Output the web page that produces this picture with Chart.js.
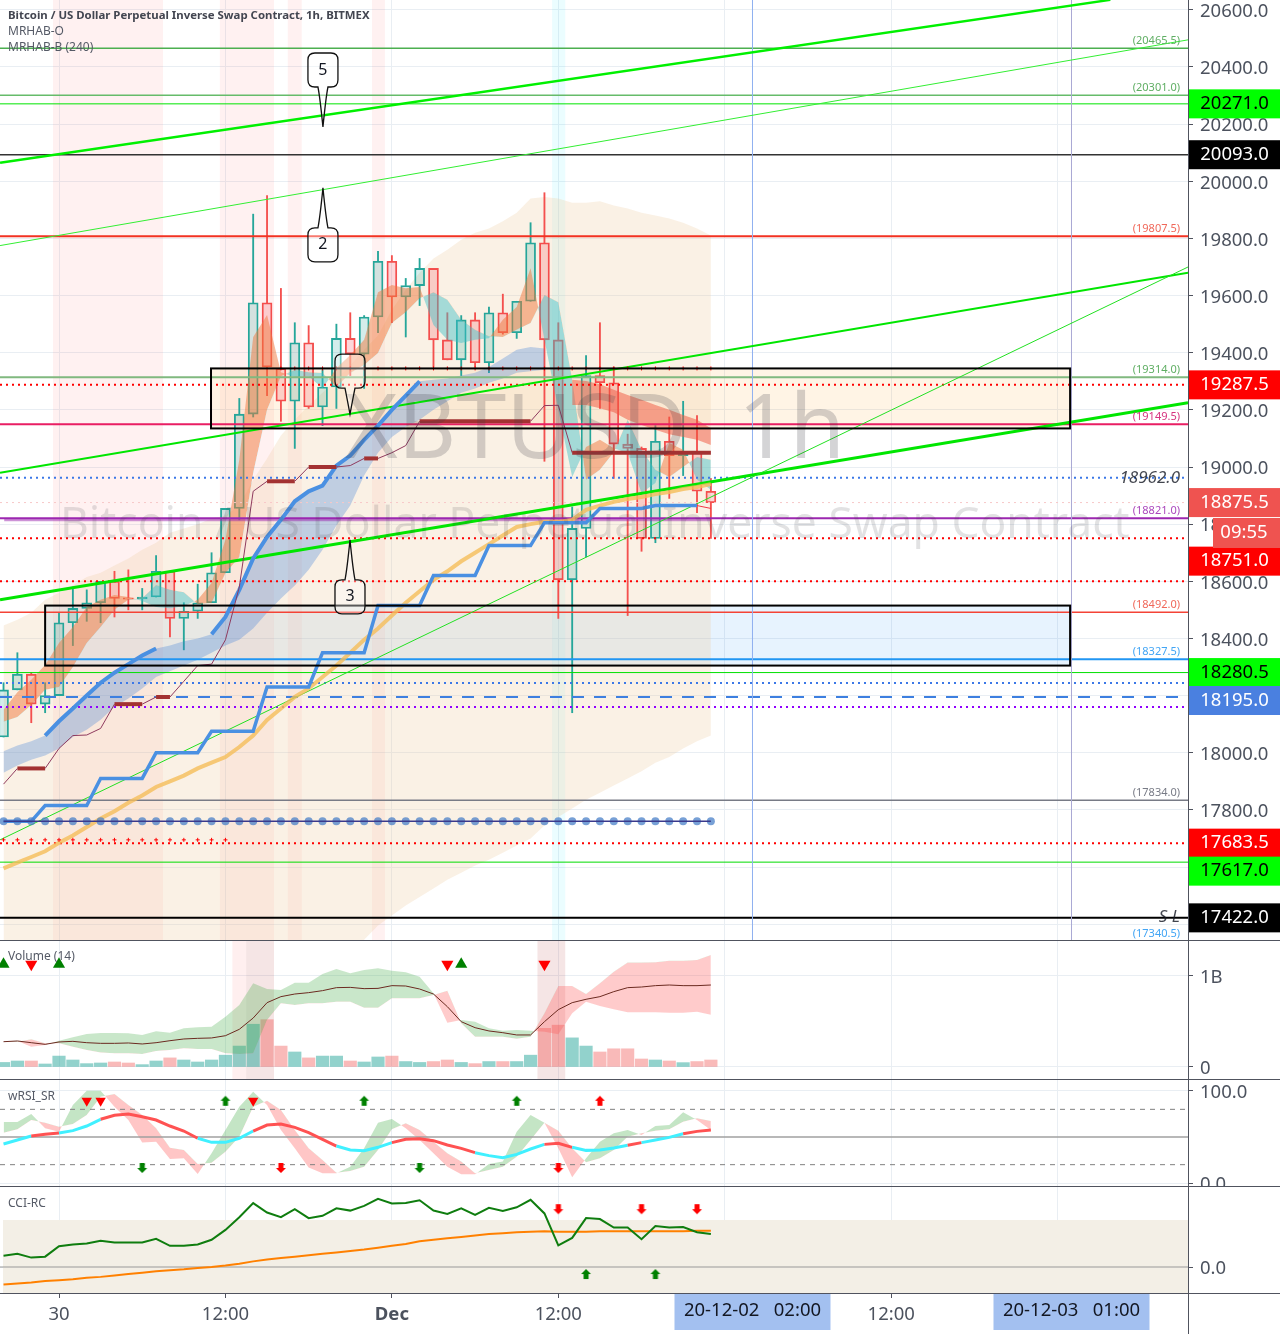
<!DOCTYPE html>
<html>
<head>
<meta charset="utf-8">
<title>XBTUSD 1h</title>
<script src="https://cdn.jsdelivr.net/npm/chart.js@4"></script>
<style>
html, body { margin: 0; padding: 0; background: #fff; }
#page { position: relative; width: 1280px; height: 1334px; overflow: hidden; }
canvas { position: absolute; left: 0; display: block; }
.rule { position: absolute; background: #50535e; }
</style>
</head>
<body>
<div id="page">
  <canvas id="mainChart" width="1280" height="940" style="top:0"></canvas>
  <canvas id="volumeChart" width="1280" height="138" style="top:941px"></canvas>
  <canvas id="rsiChart" width="1280" height="106" style="top:1080px"></canvas>
  <canvas id="cciChart" width="1280" height="147" style="top:1187px"></canvas>
  <div class="rule" style="left:0;top:940px;width:1280px;height:1px"></div>
  <div class="rule" style="left:0;top:1079px;width:1280px;height:1px"></div>
  <div class="rule" style="left:0;top:1186px;width:1280px;height:1px"></div>
  <div class="rule" style="left:0;top:1293px;width:1280px;height:1px"></div>
  <div class="rule" style="left:1188px;top:0;width:1px;height:1334px"></div>
</div>
<script>
// candles, one per hour, hour 0 is 30 Nov 00:00
var firstHour = -4;
var opens = [18055,18220,18275,18170,18200,18455,18505,18525,18600,18542,18538,18545,18635,18470,18495,18525,18630,18855,19185,19575,19345,19230,19435,19210,19280,19450,19395,19525,19720,19595,19635,19695,19445,19375,19515,19365,19540,19470,19580,19785,19445,18605,18785,19320,19295,19080,19065,18750,19090,19040,19055,18915];
var highs = [18245,18350,18280,18245,18490,18580,18570,18600,18635,18640,18575,18690,18635,18525,18590,18700,18855,19240,19885,19950,19625,19505,19495,19340,19500,19540,19530,19755,19740,19660,19730,19695,19540,19530,19540,19560,19605,19580,19855,19960,19505,18860,19390,19505,19350,19115,19070,19145,19175,19230,19180,18960];
var lows = [18055,18220,18105,18140,18200,18375,18460,18455,18475,18500,18500,18545,18405,18360,18470,18525,18630,18815,19175,19250,19160,19065,19205,19145,19205,19320,19275,19470,19505,19455,19565,19350,19375,19320,19350,19330,19465,19450,19580,19020,18470,18140,18685,19205,18960,18480,18705,18735,18890,18970,18840,18750];
var closes = [18220,18275,18170,18200,18455,18505,18525,18600,18540,18537,18545,18635,18470,18495,18525,18630,18855,19185,19575,19350,19230,19435,19210,19280,19450,19395,19525,19720,19595,19635,19695,19445,19375,19515,19365,19540,19470,19580,19785,19445,18605,18785,19320,19295,19080,19065,18750,19090,19040,19055,18915,18875];

// overlays on the price pane
var cloudTop = [18445,18465,18490,18535,18560,18585,18615,18630,18655,18680,18710,18735,18770,18785,18800,18820,18830,18865,18955,19030,19110,19165,19215,19260,19305,19355,19410,19460,19550,19620,19680,19730,19760,19795,19820,19835,19860,19890,19940,19945,19940,19925,19925,19930,19915,19905,19890,19880,19870,19855,19835,19810];
var cloudBottom = [17200,17200,17200,17200,17200,17200,17200,17200,17200,17200,17200,17200,17200,17200,17200,17200,17200,17200,17200,17200,17200,17200,17200,17200,17200,17200,17345,17395,17430,17465,17495,17525,17555,17580,17605,17625,17650,17675,17700,17745,17775,17805,17835,17860,17885,17910,17935,17965,17985,18015,18040,18060];
var blueBandTop = [18005,18025,18040,18060,18110,18155,18200,18245,18280,18310,18340,18365,18375,18390,18400,18415,18475,18570,18680,18755,18815,18880,18915,18935,19005,19040,19095,19145,19200,19250,19300,19305,19310,19320,19330,19350,19380,19410,19420,19415];
var blueBandBottom = [17930,17955,17975,17990,18015,18055,18080,18115,18160,18190,18225,18265,18285,18305,18325,18350,18375,18395,18435,18490,18540,18585,18640,18710,18795,18865,18970,19050,19105,19140,19165,19200,19230,19260,19275,19295,19310,19330,19335,19340];
var blueThickGap = [-4,-3,-2,8,9,10,27,28,29,30,31,32,33,34,35];
var fastLine = [18150,18212,18255,18307,18384,18440,18510,18535,18552,18545,18531,18510,18506,18513,18535,18594,18745,19025,19455,19532,19332,19315,19318,19276,19346,19392,19445,19612,19637,19626,19630,19497,19445,19434,19445,19451,19515,19560,19696,19445,19200,18965,19070,19095,19066,19049,18909,18944,19084,19060,18955,18920];
var slowLine = [18108,18125,18167,18220,18230,18300,18384,18440,18500,18535,18541,18587,18570,18562,18520,18524,18629,18685,18979,19200,19318,19340,19332,19329,19280,19329,19357,19399,19504,19542,19591,19612,19585,19515,19480,19458,19455,19480,19504,19602,19577,19305,18955,18990,19052,19165,19060,18990,18965,19000,19035,19025];
var salmonStart = 37;
var salmonTop = [19305,19301,19290,19270,19252,19235,19217,19200,19182,19165,19136];
var salmonBottom = [19217,19217,19206,19192,19165,19147,19130,19115,19105,19095,19077];
var stepLine = [17760,17760,17760,17815,17815,17815,17815,17910,17910,17910,17910,18000,18000,18000,18000,18075,18075,18075,18075,18230,18230,18230,18230,18350,18350,18350,18350,18515,18515,18515,18515,18620,18620,18620,18620,18725,18725,18725,18725,18805,18805,18805,18805,18855,18855,18855,18855,18865,18865,18865,18865];
var yellowLine = [17595,17615,17635,17655,17685,17710,17740,17770,17795,17825,17850,17880,17900,17920,17945,17965,17985,18020,18060,18115,18155,18195,18225,18265,18305,18350,18395,18435,18480,18525,18565,18605,18635,18670,18700,18730,18760,18790,18800,18808,18808,18815,18850,18865,18878,18888,18895,18905,18912,18923,18930,18940];
var maroonLine = [17890,17945,17945,17945,18015,18060,18062,18085,18170,18170,18170,18195,18195,18250,18305,18310,18395,18580,18915,18950,18950,18950,19000,19000,19000,19005,19030,19030,19050,19075,19160,19160,19160,19160,19160,19160,19160,19160,19160,19215,19216,19050,19050,19050,19050,19050,19050,19050,19050,19050,19050,19050];
var dotLevel = 17760;
var lowCrossLevel = 17695, lowCrossHours = [-4,-3,-2,-1,0,1,2,3,4,5,6,7,8,9,10,11,12];
var highCrossLevel = 19345, highCrossHours = [16,17,18,19,20,21,22,23,24,25,26,27,28,29,30,31,32,33,34,35,36,37,38,39,40,41,42,43,44,45,46,47];

// horizontal levels
var levelPrices = [20465.5,20301,20271,20093,19807.5,19314,19287.5,19149.5,18962,18875.5,18821,18751,18600,18492,18327.5,18280.5,18244,18195,18160,17834,17683.5,17617,17422];
var levelColors = ['#4caf50','#66bb6a','#00e600','#333333','#f23222','#81b97f','#ff0000','#e91e63','#3b78e7','#f7c8c8','#9c27b0','#ff0000','#ff0000','#f44336','#2196f3','#00e000','#3b78e7','#3d7fe0','#9000ff','#787b86','#ff0000','#00dd00','#000000'];
var levelWidths = [1.5,1.5,1,1.5,2,2,2,2,2,1,2,2,2,1.5,2,1,2,2,2,1.5,2,1,2];
var levelStyles = ['','','','','','','dot','','dot','dot','','dot','dot','','','','dot','dash','dot','','dot','',''];

// sloped lines, start and end as [hour, price]
var trendLines = [
  [[-4.25,20065],[75.8,20635],'#00f000',2.5],
  [[-4.25,19775],[81.4,20495],'#33ee33',1],
  [[-4.25,18980],[81.4,19680],'#00e600',2],
  [[-4.25,18535],[81.4,19225],'#00e600',3],
  [[-4.25,17695],[81.4,19700],'#22e022',1]
];

// boxes: start hour, end hour, top price, bottom price
var boxStart = [10.96,-1], boxEnd = [72.9,72.9], boxTop = [19345,18515], boxBottom = [19135,18305];
var boxFills = ['rgba(255,152,0,0.1)','rgba(33,150,243,0.11)'];
var pinkZones = [[-0.43,7.5],[11.6,15.5],[16.5,17.5],[22.57,23.5]];
var cyanZones = [[35.55,36.5]];
var cursorHours = [50,73];

// balloons: text, hour and price of the tip
var noteTexts = ['5','2','3',''];
var noteHours = [19.03,19.03,20.98,20.98];
var notePrices = [20190,19977,18745,19185];

// price axis
var priceTicks = [20600,20400,20200,20000,19800,19600,19400,19200,19000,18800,18600,18400,18200,18000,17800,17600,17400];
var tagPrices = [20271,20093,19287.5,18875.5,18751,18280.5,18195,17683.5,17617,17422];
var tagTexts = ['20271.0','20093.0','19287.5','18875.5','18751.0','18280.5','18195.0','17683.5','17617.0','17422.0'];
var tagFills = ['#00ff00','#000000','#ff0000','#ef5350','#ff0000','#00ff00','#4a80e0','#ff0000','#00ff00','#000000'];
var tagInk = ['#000','#fff','#fff','#fff','#fff','#000','#fff','#fff','#000','#fff'];
var tagShift = [0,0,0,0,23,0,3.5,0,9,0];
var noteLevels = [20465.5,20301,19807.5,19314,19149.5,18821,18492,18327.5,17834,17340.5];
var noteLevelTexts = ['(20465.5)','(20301.0)','(19807.5)','(19314.0)','(19149.5)','(18821.0)','(18492.0)','(18327.5)','(17834.0)','(17340.5)'];
var noteLevelColors = ['#5fae63','#5fae63','#f0685a','#5fae63','#d6337f','#ab47bc','#f0685a','#42a5f5','#787b86','#42a5f5'];

// volume pane, in billions
var volumes = [.05,.066,.066,.033,.12,.077,.037,.044,.055,.044,.026,.066,.10,.077,.055,.077,.13,.23,.47,.52,.23,.165,.10,.12,.12,.066,.055,.11,.12,.06,.05,.06,.077,.05,.037,.06,.06,.06,.13,.425,.46,.32,.23,.165,.20,.20,.088,.077,.066,.048,.06,.077];
var volumeMa = [.278,.286,.267,.249,.275,.282,.267,.26,.26,.264,.253,.267,.289,.308,.315,.319,.344,.414,.538,.707,.773,.802,.817,.839,.872,.875,.861,.864,.894,.89,.857,.802,.663,.498,.432,.396,.377,.352,.352,.498,.63,.707,.744,.773,.828,.872,.879,.894,.901,.894,.894,.901];
var volumeFast = [.278,.286,.223,.242,.289,.326,.363,.374,.374,.37,.352,.392,.377,.425,.436,.443,.553,.681,.919,.857,.846,.927,.927,1.022,1.077,1.029,1.066,1.084,1.059,1.04,.993,.81,.487,.516,.498,.425,.399,.407,.399,.388,.359,.59,.718,.67,.634,.601,.601,.601,.597,.597,.608,.575];
var volumeSlow = [.278,.278,.304,.26,.26,.223,.187,.158,.15,.15,.143,.176,.187,.205,.198,.198,.15,.143,.15,.516,.70,.681,.70,.70,.718,.718,.652,.652,.755,.755,.755,.791,.839,.48,.333,.333,.333,.311,.333,.59,.89,.89,.802,.919,1.048,1.147,1.147,1.15,1.168,1.168,1.176,1.231];
var volumeUpMarks = [-4,0,29], volumeDownMarks = [-2,28,35], volumeMarkLevel = 1.13;
var volumePink = [[12.5,15.5],[34.5,36.5]];
var volumeGrey = [[13.5,15.5],[34.5,36.5]];

// wRSI pane
var rsiLine = [42.4,46.7,51.1,52.9,54.3,56.9,61.9,69.2,73.5,74.9,72,68.4,61.9,56.5,48.6,44.2,44.2,48.6,56.5,63,64.1,60.5,54.7,47.5,40.2,35.9,35.2,38.8,43.9,47.5,48.2,46,41.3,37.7,33,29.8,27.6,31.2,37,42,43.1,38.8,35.5,35.9,38.1,41,43.9,46.7,49.6,53.6,56.1,57.6];
var rsiFast = [66.3,66.3,74.9,59.4,55.8,84.7,100.2,100.2,82.9,68.4,43.9,44.9,26.1,26.9,9.9,32.3,57.6,82.9,99.1,84.7,57.6,37.7,16.8,10.6,10.6,17.8,37.7,65.5,69.5,59.4,46.7,32.3,17.8,9.5,9.5,20.7,23.3,55.8,73.9,65.5,37.7,6.3,26.9,44.9,54,57.6,52.2,61.9,63,76.7,68.4,57.6];
var rsiSlow = [54.7,58.3,68.4,65.5,61.2,64.1,73.9,93.7,96.6,84.7,73.9,59.4,38.4,35.9,20.7,22.2,34.1,50.4,82.9,89.4,79.3,57.6,37.7,25.1,11.3,13.1,17.8,35.9,58.3,64.8,57.6,44.9,32.3,23.3,10.6,14.2,17.8,28.7,46.7,65.5,56.9,37.7,22.5,26.9,35.9,50.4,54,56.9,58.3,66.6,70.2,67.3];
var rsiRedSpans = [[-2,0],[3,10],[14,20],[24,30],[35,37],[41,42],[45,47]];
var rsiLevels = [80,50,20];
var rsiTriangleHours = [2,3,14], rsiTriangleLevel = 89.3;
var rsiGreenUp = [12,22,33], rsiRedUp = [39], rsiArrowUpLevel = 89.3;
var rsiGreenDown = [6,26], rsiRedDown = [16,36], rsiArrowDownLevel = 16.4;

// CCI pane
var cciLine = [24,28,20,22,44,48,50,56,52,52,52,60,45,45,48,58,79,106,136,116,106,123,104,109,125,120,130,145,135,136,142,120,113,125,111,126,119,127,143,114,46,62,104,102,84,84,59,87,84,85,74,70];
var cciAverage = [-37,-35,-33,-30,-28,-26,-23,-21,-18,-15,-12,-9,-7,-5,-2,0,3,7,12,16,19,22,25,28,31,34,37,41,45,49,55,58,61,64,67,70,72,74,75,76,75,75,75,76,76,76,76,76,76,76,77,77];
var cciDownHours = [36,42,46], cciDownLevel = 123, cciUpHours = [38,43], cciUpLevel = -15;
var cciBandTop = 100;

// time axis
var timeTicks = [0,12,24,36,48,60,72];
var timeLabels = ['30','12:00','Dec','12:00','','12:00',''];
var cursorLabels = ['20-12-02   02:00','20-12-03   01:00'];

var xMin = -4.254, xMax = 81.4;
var fontName = '"Noto Sans", sans-serif';
var gridColor = '#e9eef3';
var axisInk = '#4c525e';
var axisTick = '#50535e';
var tealLine = '#26a69a', redLine = '#f4504e';

Chart.defaults.font.family = fontName;
Chart.defaults.animation = false;

// tick labels on the right sit a little lower than chart.js puts them
Chart.register({
  id: 'nudgeLabels',
  beforeDraw: function (chart) {
    chart.scales.y.getLabelItems().forEach(function (item) { item.options.translation[1] += 2; });
  }
});

function pts(values, start) {
  var from = start === undefined ? firstHour : start;
  return values.map(function (v, k) { return { x: from + k, y: v }; });
}
function marks(hours, level) {
  return hours.map(function (h) { return { x: h, y: level }; });
}
function line(data, color, width, extra) {
  return Object.assign({ type: 'line', data: data, borderColor: color, borderWidth: width, pointRadius: 0, fill: false, tension: 0 }, extra);
}
function band(top, bottom, above, below, start) {
  return [
    line(pts(top, start), 'transparent', 0, { fill: { target: '+1', above: above, below: below } }),
    line(pts(bottom, start), 'transparent', 0)
  ];
}
function flat(level, color, width, dash) {
  return line([{ x: xMin, y: level }, { x: xMax, y: level }], color, width, { borderDash: dash || [] });
}
function symbols(data, style, color, radius, extra) {
  return Object.assign({ type: 'line', data: data, showLine: false, pointStyle: style, pointRadius: radius, pointBackgroundColor: color, pointBorderColor: color, pointBorderWidth: 0 }, extra);
}
function arrowIcon(color, up) {
  var c = document.createElement('canvas');
  c.width = 12; c.height = 12;
  var g = c.getContext('2d');
  g.fillStyle = color;
  if (!up) { g.translate(0, 12); g.scale(1, -1); }
  g.beginPath();
  g.moveTo(6, 1); g.lineTo(11, 6); g.lineTo(8.5, 6); g.lineTo(8.5, 11); g.lineTo(3.5, 11); g.lineTo(3.5, 6); g.lineTo(1, 6);
  g.closePath();
  g.fill();
  return c;
}
function stacked(list) {
  // later entries draw on top
  list.forEach(function (d, k) { d.order = -k; });
  return list;
}

function xAxis(show) {
  return {
    type: 'linear', min: xMin, max: xMax, offset: false,
    afterBuildTicks: function (s) { s.ticks = timeTicks.map(function (v) { return { value: v }; }); },
    afterFit: function (s) { s.height = show ? 41 : 0; s.paddingLeft = 0; s.paddingRight = 0; },
    ticks: {
      display: show, autoSkip: false, maxRotation: 0, padding: 6, color: axisInk,
      font: function (c) { return { size: 18.5, weight: c.tick && c.tick.value === 24 ? 'bold' : 'normal' }; },
      callback: function (v) { return timeLabels[timeTicks.indexOf(v)]; }
    },
    grid: { color: gridColor, offset: false, drawTicks: show, tickColor: axisTick, tickLength: 5 },
    border: { display: false }
  };
}
function yAxis(min, max, ticks, labels) {
  return {
    position: 'right', min: min, max: max,
    afterBuildTicks: function (s) { s.ticks = ticks.map(function (v) { return { value: v }; }); },
    afterFit: function (s) { s.width = 92; s.paddingTop = 0; s.paddingBottom = 0; },
    ticks: {
      autoSkip: false, padding: 7, color: axisInk, font: { size: 18.5 },
      callback: function (v) { return labels ? labels[ticks.indexOf(v)] : v.toFixed(1); }
    },
    grid: { color: gridColor, tickColor: axisTick, tickLength: 5 },
    border: { display: false }
  };
}
function paneOptions(yScale, showTime) {
  return {
    responsive: false, devicePixelRatio: 1, events: [],
    layout: { padding: 0, autoPadding: false },
    plugins: { legend: { display: false }, tooltip: { enabled: false } },
    scales: { x: xAxis(showTime), y: yScale }
  };
}
function paintZones(chart, zones, color) {
  var g = chart.ctx, a = chart.chartArea, x = chart.scales.x;
  g.fillStyle = color;
  zones.forEach(function (z) {
    var l = x.getPixelForValue(z[0]), r = x.getPixelForValue(z[1]);
    g.fillRect(l, a.top, r - l, a.bottom - a.top);
  });
}
function paneTitle(chart, text, y, font, color) {
  var g = chart.ctx;
  g.font = font || '12px ' + fontName;
  g.fillStyle = color || '#555a66';
  g.textAlign = 'left';
  g.textBaseline = 'middle';
  g.fillText(text, 8, y);
}
function drawNote(g, tipX, tipY, down, text) {
  var w = 30, h = 34, gap = text === '' ? 26 : 40, r = 7;
  var left = tipX - w / 2;
  var top = down ? tipY - gap - h : tipY + gap;
  var bottom = top + h;
  g.beginPath();
  g.moveTo(left + r, top);
  if (!down) { g.lineTo(tipX - 5, top); g.quadraticCurveTo(tipX - 3, top - 10, tipX, tipY); g.quadraticCurveTo(tipX + 3, top - 10, tipX + 5, top); }
  g.lineTo(left + w - r, top);
  g.quadraticCurveTo(left + w, top, left + w, top + r);
  g.lineTo(left + w, bottom - r);
  g.quadraticCurveTo(left + w, bottom, left + w - r, bottom);
  if (down) { g.lineTo(tipX + 5, bottom); g.quadraticCurveTo(tipX + 3, bottom + 10, tipX, tipY); g.quadraticCurveTo(tipX - 3, bottom + 10, tipX - 5, bottom); }
  g.lineTo(left + r, bottom);
  g.quadraticCurveTo(left, bottom, left, bottom - r);
  g.lineTo(left, top + r);
  g.quadraticCurveTo(left, top, left + r, top);
  g.closePath();
  g.fillStyle = 'rgba(255,255,255,0.35)';
  g.fill();
  g.strokeStyle = '#111';
  g.lineWidth = 1.3;
  g.stroke();
  g.fillStyle = '#131722';
  g.font = '16px ' + fontName;
  g.textAlign = 'center';
  g.textBaseline = 'middle';
  g.fillText(text, tipX, top + h / 2);
}

var mainDecor = {
  id: 'mainDecor',
  beforeDatasetsDraw: function (chart) {
    var g = chart.ctx, x = chart.scales.x, y = chart.scales.y;
    g.save();
    paintZones(chart, pinkZones, 'rgba(255,82,82,0.08)');
    paintZones(chart, cyanZones, 'rgba(0,229,255,0.08)');
    boxStart.forEach(function (s, k) {
      var l = x.getPixelForValue(s), t = y.getPixelForValue(boxTop[k]);
      g.fillStyle = boxFills[k];
      g.fillRect(l, t, x.getPixelForValue(boxEnd[k]) - l, y.getPixelForValue(boxBottom[k]) - t);
    });
    g.restore();
  },
  afterDatasetsDraw: function (chart) {
    var g = chart.ctx, x = chart.scales.x, y = chart.scales.y;
    g.save();
    // watermark
    g.textBaseline = 'alphabetic';
    g.textAlign = 'left';
    g.fillStyle = 'rgba(60,60,70,0.22)';
    g.font = '90px ' + fontName;
    g.fillText('XBTUSD', 345, 458);
    g.fillText('1h', 738, 458);
    g.fillStyle = 'rgba(60,60,70,0.15)';
    g.font = '44.4px ' + fontName;
    g.fillText('Bitcoin / US Dollar Perpetual Inverse Swap Contract', 60, 538);
    // boxes
    g.strokeStyle = '#000';
    g.lineWidth = 2;
    boxStart.forEach(function (s, k) {
      var l = x.getPixelForValue(s), t = y.getPixelForValue(boxTop[k]);
      g.strokeRect(l, t, x.getPixelForValue(boxEnd[k]) - l, y.getPixelForValue(boxBottom[k]) - t);
    });
    noteTexts.forEach(function (t, k) {
      drawNote(g, x.getPixelForValue(noteHours[k]), y.getPixelForValue(notePrices[k]), k === 0 || k === 3, t);
    });
    // small level captions
    g.font = '11px ' + fontName;
    g.textAlign = 'right';
    g.textBaseline = 'middle';
    noteLevels.forEach(function (p, k) {
      g.fillStyle = noteLevelColors[k];
      g.fillText(noteLevelTexts[k], 1180, y.getPixelForValue(p) - 7);
    });
    g.fillStyle = 'rgba(19,23,34,0.8)';
    g.font = 'italic 17px ' + fontName;
    g.fillText('18962.0', 1180, y.getPixelForValue(18962));
    g.fillText('S L', 1180, y.getPixelForValue(17422) - 1);
    // titles
    paneTitle(chart, 'Bitcoin / US Dollar Perpetual Inverse Swap Contract, 1h, BITMEX', 16, 'bold 11.4px ' + fontName, '#434651');
    paneTitle(chart, 'MRHAB-O', 32);
    paneTitle(chart, 'MRHAB-B (240)', 48);
    g.restore();
  },
  afterDraw: function (chart) {
    var g = chart.ctx, y = chart.scales.y;
    g.save();
    g.textBaseline = 'middle';
    g.textAlign = 'center';
    g.font = '18.5px ' + fontName;
    tagPrices.forEach(function (p, k) {
      var mid = y.getPixelForValue(p) + tagShift[k];
      g.fillStyle = tagFills[k];
      g.fillRect(1189, mid - 14.5, 91, 29);
      g.fillStyle = tagInk[k];
      g.fillText(tagTexts[k], 1234.5, mid);
    });
    g.fillStyle = '#ef5350';
    g.fillRect(1213, 518, 67, 30);
    g.fillStyle = '#fff';
    g.fillText('09:55', 1244, 533);
    g.restore();
  }
};

var candleColors = opens.map(function (o, k) { return closes[k] >= o ? tealLine : redLine; });
var candleFills = opens.map(function (o, k) { return closes[k] >= o ? 'rgba(38,166,154,0.2)' : 'rgba(242,54,69,0.2)'; });
var bars = { type: 'bar', grouped: false, borderSkipped: false };
var bodyData = opens.map(function (o, k) { return { x: firstHour + k, y: [o, closes[k]] }; });
var upperWick = opens.map(function (o, k) { return { x: firstHour + k, y: [Math.max(o, closes[k]), highs[k]] }; });
var lowerWick = opens.map(function (o, k) { return { x: firstHour + k, y: [lows[k], Math.min(o, closes[k])] }; });
var blueThick = blueBandTop.map(function (v, k) { return { x: firstHour + k, y: blueThickGap.indexOf(firstHour + k) >= 0 ? null : v }; });

var mainSets = [];
mainSets = mainSets.concat(band(cloudTop, cloudBottom, 'rgba(235,205,160,0.27)', 'rgba(235,205,160,0.27)'));
mainSets.push(Object.assign({}, bars, { data: upperWick, backgroundColor: candleColors, barThickness: 1.2 }));
mainSets.push(Object.assign({}, bars, { data: lowerWick, backgroundColor: candleColors, barThickness: 1.2 }));
mainSets.push(Object.assign({}, bars, { data: bodyData, backgroundColor: candleFills, borderColor: candleColors, borderWidth: 1.2, barThickness: 10 }));
mainSets = mainSets.concat(band(blueBandTop, blueBandBottom, 'rgba(60,125,215,0.3)', 'rgba(60,125,215,0.3)'));
mainSets = mainSets.concat(band(fastLine, slowLine, 'rgba(240,120,60,0.5)', 'rgba(60,190,200,0.45)'));
mainSets = mainSets.concat(band(salmonTop, salmonBottom, 'rgba(239,83,60,0.5)', 'rgba(239,83,60,0.5)', salmonStart));
levelPrices.forEach(function (p, k) {
  var dash = levelStyles[k] === 'dot' ? [2, 4] : levelStyles[k] === 'dash' ? [12, 10] : [];
  mainSets.push(flat(p, levelColors[k], levelWidths[k], dash));
});
mainSets.push(line([{ x: -3.95, y: 18815 }, { x: 47, y: 18815 }], 'rgba(156,39,176,0.5)', 3));
cursorHours.forEach(function (h, k) {
  mainSets.push(line([{ x: h, y: 17300 }, { x: h, y: 20700 }], k === 0 ? '#8fb0f0' : '#a9a8d4', 1));
});
trendLines.forEach(function (t) {
  mainSets.push(line([{ x: t[0][0], y: t[0][1] }, { x: t[1][0], y: t[1][1] }], t[2], t[3]));
});
mainSets.push(line(pts(yellowLine), 'rgba(245,190,90,0.8)', 4));
mainSets.push(line(pts(stepLine), '#4a90e2', 3.5));
mainSets.push(line([{ x: 46, y: 18865 }, { x: 47, y: 18855 }], '#f23645', 1));
mainSets.push(line(blueThick, '#4a90e2', 4));
mainSets.push(line(pts(maroonLine), '#8e3a5e', 1, {
  segment: {
    borderWidth: function (c) { return c.p0.parsed.y === c.p1.parsed.y ? 4 : 1; },
    borderColor: function (c) { return c.p0.parsed.y === c.p1.parsed.y ? '#a33232' : '#8e3a5e'; }
  }
}));
mainSets.push(symbols(pts(opens.map(function () { return dotLevel; })), 'circle', 'rgba(74,128,200,0.75)', 4));
mainSets.push(line(pts(opens.map(function () { return dotLevel; })), '#3a3a8c', 1.5));
mainSets.push(symbols(marks(lowCrossHours, lowCrossLevel), 'cross', '#ff0000', 2, { pointBorderWidth: 1 }));
mainSets.push(symbols(marks(highCrossHours, highCrossLevel), 'cross', '#ff0000', 2, { pointBorderWidth: 1 }));

var mainChart = new Chart(document.getElementById('mainChart').getContext('2d'), {
  type: 'line',
  data: { datasets: stacked(mainSets) },
  options: paneOptions(yAxis(17344.5, 20634.5, priceTicks), false),
  plugins: [mainDecor]
});

// volume
var volumeColors = opens.map(function (o, k) { return closes[k] >= o ? 'rgba(38,166,154,0.5)' : 'rgba(239,83,80,0.4)'; });
var volumeSets = [];
volumeSets.push(Object.assign({}, bars, { data: pts(volumes), backgroundColor: volumeColors, barThickness: 12.5 }));
volumeSets = volumeSets.concat(band(volumeFast, volumeSlow, 'rgba(76,175,80,0.3)', 'rgba(255,82,82,0.3)'));
volumeSets.push(line(pts(volumeMa), '#6b2a20', 1));
volumeSets.push(symbols(marks(volumeUpMarks, volumeMarkLevel), 'triangle', '#008000', 7));
volumeSets.push(symbols(marks(volumeDownMarks, volumeMarkLevel), 'triangle', '#ff0000', 7, { pointRotation: 180 }));
var volumeChart = new Chart(document.getElementById('volumeChart').getContext('2d'), {
  type: 'line',
  data: { datasets: stacked(volumeSets) },
  options: paneOptions(yAxis(-0.1319, 1.3846, [0, 1], ['0', '1B']), false),
  plugins: [{
    id: 'volumeDecor',
    beforeDatasetsDraw: function (chart) {
      chart.ctx.save();
      paintZones(chart, volumePink, 'rgba(255,82,82,0.09)');
      paintZones(chart, volumeGrey, 'rgba(90,70,70,0.06)');
      chart.ctx.restore();
    },
    afterDatasetsDraw: function (chart) {
      chart.ctx.save();
      paneTitle(chart, 'Volume (14)', 16);
      chart.ctx.restore();
    }
  }]
});

// wRSI
var rsiSets = [];
rsiSets = rsiSets.concat(band(rsiFast, rsiSlow, 'rgba(76,175,80,0.33)', 'rgba(255,82,82,0.33)'));
rsiLevels.forEach(function (v, k) {
  rsiSets.push(flat(v, k === 1 ? '#a0a0a0' : '#808080', k === 1 ? 1.5 : 1, k === 1 ? [] : [5, 5]));
});
rsiSets.push(line(pts(rsiLine), '#40f0ff', 3, {
  segment: {
    borderColor: function (c) {
      var h = c.p0.parsed.x;
      return rsiRedSpans.some(function (s) { return h >= s[0] && h < s[1]; }) ? '#ff5252' : '#40f0ff';
    }
  }
}));
rsiSets.push(symbols(marks(rsiTriangleHours, rsiTriangleLevel), 'triangle', '#ff0000', 6, { pointRotation: 180 }));
rsiSets.push(symbols(marks(rsiGreenUp, rsiArrowUpLevel), arrowIcon('#008000', true), '#008000', 6));
rsiSets.push(symbols(marks(rsiRedUp, rsiArrowUpLevel), arrowIcon('#ff0000', true), '#ff0000', 6));
rsiSets.push(symbols(marks(rsiGreenDown, rsiArrowDownLevel), arrowIcon('#008000', false), '#008000', 6));
rsiSets.push(symbols(marks(rsiRedDown, rsiArrowDownLevel), arrowIcon('#ff0000', false), '#ff0000', 6));
var rsiChart = new Chart(document.getElementById('rsiChart').getContext('2d'), {
  type: 'line',
  data: { datasets: stacked(rsiSets) },
  options: paneOptions(yAxis(-3.13, 111.8, [0, 100]), false),
  plugins: [{
    id: 'rsiDecor',
    afterDatasetsDraw: function (chart) {
      chart.ctx.save();
      paneTitle(chart, 'wRSI_SR', 17);
      chart.ctx.restore();
    }
  }]
});

// CCI, carries the time axis
var cciSets = [];
cciSets.push(line([{ x: -4.05, y: cciBandTop }, { x: xMax, y: cciBandTop }], 'transparent', 0, { fill: 'start', backgroundColor: '#f3efe6' }));
cciSets.push(flat(0, '#999999', 1));
cciSets.push(line(pts(cciAverage), '#ff8000', 2));
cciSets.push(line(pts(cciLine), '#0f7d0f', 2));
cciSets.push(symbols(marks(cciDownHours, cciDownLevel), arrowIcon('#ff0000', false), '#ff0000', 6));
cciSets.push(symbols(marks(cciUpHours, cciUpLevel), arrowIcon('#008000', true), '#008000', 6));
var cciChart = new Chart(document.getElementById('cciChart').getContext('2d'), {
  type: 'line',
  data: { datasets: stacked(cciSets) },
  options: paneOptions(yAxis(-55.3, 170.2, [0]), true),
  plugins: [{
    id: 'cciDecor',
    afterDatasetsDraw: function (chart) {
      chart.ctx.save();
      paneTitle(chart, 'CCI-RC', 16.5);
      chart.ctx.restore();
    },
    afterDraw: function (chart) {
      var g = chart.ctx, x = chart.scales.x;
      g.save();
      g.textAlign = 'center';
      g.textBaseline = 'middle';
      g.font = '18.5px ' + fontName;
      cursorHours.forEach(function (h, k) {
        var mid = x.getPixelForValue(h);
        g.fillStyle = '#a3c0f0';
        g.fillRect(mid - 78, 107, 156, 36);
        g.fillStyle = '#131722';
        g.fillText(cursorLabels[k], mid, 124);
      });
      g.restore();
    }
  }]
});
</script>
</body>
</html>
